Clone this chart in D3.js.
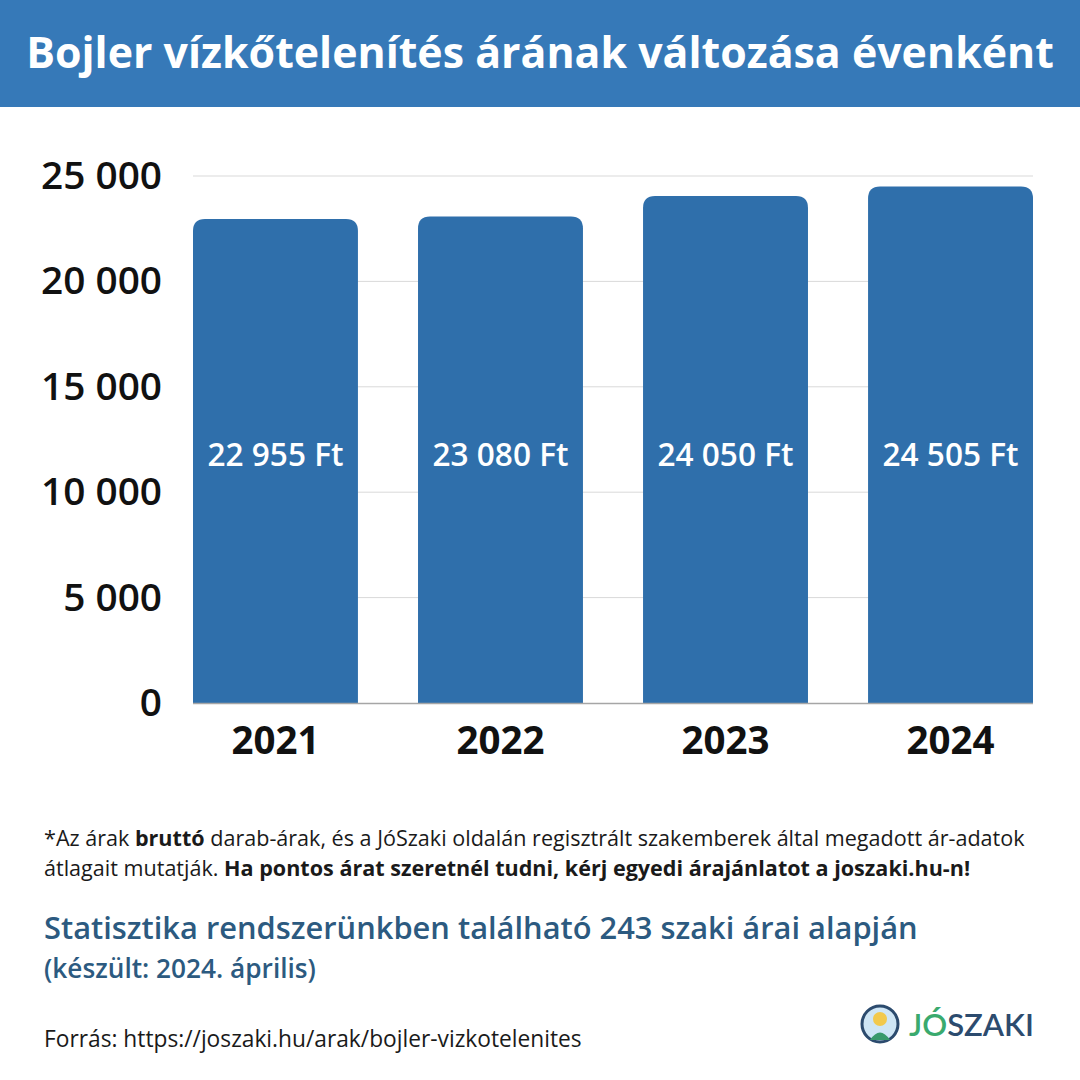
<!DOCTYPE html>
<html><head><meta charset="utf-8">
<script src="https://cdn.jsdelivr.net/npm/d3@7"></script>
<style>html,body{margin:0;padding:0;background:#fff;}svg{display:block;font-family:"Open Sans","Noto Sans",sans-serif;}</style>
</head><body>
<svg id="c" width="1080" height="1080"></svg>
<script>
const categories = ["2021", "2022", "2023", "2024"];
const values = [22955, 23080, 24050, 24505];
const valueLabels = ["22 955 Ft", "23 080 Ft", "24 050 Ft", "24 505 Ft"];
const yTicks = [0, 5000, 10000, 15000, 20000, 25000];
const yTickLabels = ["0", "5 000", "10 000", "15 000", "20 000", "25 000"];

const svg = d3.select("#c");
const blue = "#3679b8", barColor = "#2f6fab", dark = "#2c5a80";

function fitWidth(t, w){
  const cur = t.node().getComputedTextLength();
  const fs = +t.attr("font-size");
  const nfs = fs * w / cur;
  t.attr("font-size", nfs);
  return nfs;
}

// header
svg.append("rect").attr("x",0).attr("y",0).attr("width",1080).attr("height",107).attr("fill",blue);
const title = svg.append("text").attr("x",540).attr("y",68).attr("text-anchor","middle")
  .attr("fill","#fff").attr("font-weight",700).attr("font-size",40)
  .text("Bojler vízkőtelenítés árának változása évenként");
fitWidth(title, 1028);

const x = d3.scaleBand().domain(categories).range([193,1033]).paddingInner(0.267).paddingOuter(0);
const y = d3.scaleLinear().domain([0,25000]).range([703,176]);

// gridlines
svg.append("g").selectAll("line").data(yTicks.filter(d=>d>0)).join("line")
  .attr("x1",193).attr("x2",1033).attr("y1",d=>y(d)).attr("y2",d=>y(d))
  .attr("stroke","#d9d9d9").attr("stroke-width",1);

// y axis labels
const yAxis = d3.axisLeft(y).tickValues(yTicks).tickFormat((d,i)=>yTickLabels[i]).tickSize(0).tickPadding(0);
const yg = svg.append("g").attr("transform","translate(162,0)").call(yAxis);
yg.select(".domain").remove();
yg.selectAll("text").attr("font-size",36).attr("font-weight",600).attr("fill","#111")
  .attr("font-family","'Open Sans',sans-serif");
{
  const t = yg.selectAll("text").filter((d)=>d===25000);
  const fs = fitWidth(t, 121);
  yg.selectAll("text").attr("font-size", fs);
}

// bars with rounded top corners
const r = 12;
svg.append("g").selectAll("path").data(values).join("path")
  .attr("fill",barColor)
  .attr("d",(d,i)=>{
    const x0 = x(categories[i]), w = x.bandwidth(), y0 = y(d), yb = y(0);
    return `M${x0},${yb}V${y0+r}Q${x0},${y0} ${x0+r},${y0}H${x0+w-r}Q${x0+w},${y0} ${x0+w},${y0+r}V${yb}Z`;
  });

// baseline
svg.append("line").attr("x1",193).attr("x2",1033).attr("y1",y(0)+0.5).attr("y2",y(0)+0.5)
  .attr("stroke","#a6a6a6").attr("stroke-width",1.5);

// value labels
const vl = svg.append("g").selectAll("text").data(values).join("text")
  .attr("x",(d,i)=>x(categories[i])+x.bandwidth()/2)
  .attr("y",466)
  .attr("text-anchor","middle").attr("fill","#fff").attr("font-size",28).attr("font-weight",600)
  .text((d,i)=>valueLabels[i]);
{
  const fs = fitWidth(vl.filter((d,i)=>i===0), 136);
  vl.attr("font-size", fs);
}

// x axis labels
const xAxis = d3.axisBottom(x).tickSize(0).tickPadding(0);
const xg = svg.append("g").attr("transform","translate(0,0)").call(xAxis);
xg.select(".domain").remove();
xg.selectAll("text").attr("dy",null).attr("y",754).attr("font-size",40).attr("font-weight",700).attr("fill","#111")
  .attr("font-family","'Open Sans',sans-serif");
{
  const fs = fitWidth(xg.selectAll("text").filter(d=>d==="2021"), 88);
  xg.selectAll("text").attr("font-size", fs);
}

// footnote
const fn = svg.append("text").attr("x",44).attr("y",846).attr("font-size",20).attr("fill","#1a1a1a");
fn.append("tspan").text("*Az árak ");
fn.append("tspan").attr("font-weight",700).text("bruttó");
fn.append("tspan").text(" darab-árak, és a JóSzaki oldalán regisztrált szakemberek által megadott ár-adatok");
const fs1 = fitWidth(fn, 981);
const fn2 = svg.append("text").attr("x",44).attr("y",876).attr("font-size",fs1).attr("fill","#1a1a1a");
fn2.append("tspan").text("átlagait mutatják. ");
fn2.append("tspan").attr("font-weight",700).text("Ha pontos árat szeretnél tudni, kérj egyedi árajánlatot a joszaki.hu-n!");

const st = svg.append("text").attr("x",44).attr("y",939).attr("font-size",30).attr("font-weight",600).attr("fill",dark)
  .text("Statisztika rendszerünkben található 243 szaki árai alapján");
fitWidth(st, 874);
const ks = svg.append("text").attr("x",44).attr("y",978).attr("font-size",22).attr("font-weight",600).attr("fill",dark)
  .text("(készült: 2024. április)");
fitWidth(ks, 272);

const fr = svg.append("text").attr("x",44).attr("y",1047).attr("font-size",22).attr("fill","#1a1a1a")
  .text("Forrás: https://joszaki.hu/arak/bojler-vizkotelenites");
fitWidth(fr, 538);

// logo
const lg = svg.append("g");
lg.append("circle").attr("cx",880).attr("cy",1024).attr("r",18).attr("fill","#cfe6f5").attr("stroke","#2c4b6e").attr("stroke-width",3);
lg.append("circle").attr("cx",880).attr("cy",1019).attr("r",7).attr("fill","#f2c94c");
lg.append("path").attr("d","M870,1040 Q880,1025 890,1040 Z").attr("fill","#3a9a6a");
const lt = lg.append("text").attr("x",909).attr("y",1036).attr("font-size",30).attr("font-weight",600)
  .attr("font-family","Lato,'Open Sans',sans-serif");
lt.append("tspan").attr("fill","#3aaa6e").text("JÓ");
lt.append("tspan").attr("fill","#2c4b6e").text("SZAKI");
fitWidth(lt, 125);
</script>
</body></html>
